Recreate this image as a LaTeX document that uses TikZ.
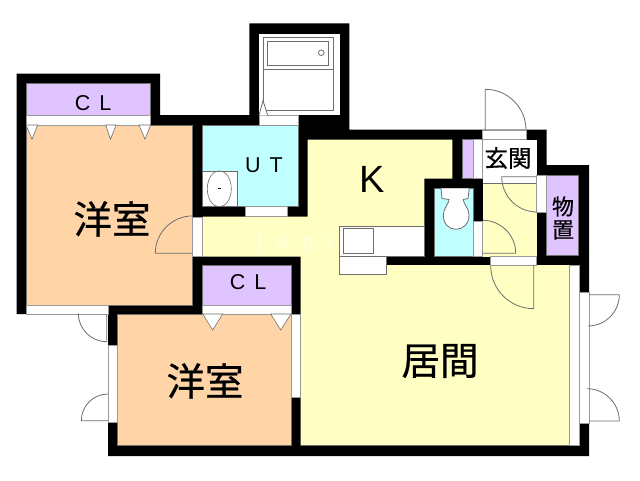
\documentclass[tikz,border=0pt]{standalone}
\usepackage{fontspec}
\setmainfont{Liberation Sans}
\newfontfamily\cjk[FakeBold=0.6]{Noto Sans CJK JP}
\definecolor{orangeroom}{HTML}{FFD5A8}
\definecolor{lilacroom}{HTML}{E0C4FF}
\definecolor{cyanroom}{HTML}{BFFFFF}
\definecolor{yellowroom}{HTML}{FFFFC4}
\definecolor{markfaint}{HTML}{FFFFE0}
\definecolor{edgegrey}{HTML}{6E6E6E}
\tikzset{
  wall/.style={fill=black,draw=none},
  room/.style={draw=edgegrey,line width=0.5pt},
  opening/.style={fill=white,draw=edgegrey!70,line width=0.6pt},
  fixture/.style={fill=white,draw=edgegrey,line width=0.8pt},
  doorline/.style={draw=edgegrey,line width=0.8pt},
  bigjp/.style={font=\cjk\fontsize{38.5}{38.5}\selectfont,inner sep=0pt},
  midjp/.style={font=\cjk\fontsize{23.5}{23.5}\selectfont,inner sep=0pt},
  label/.style={font=\fontsize{21.5}{21.5}\selectfont,inner sep=0pt}
}
\begin{document}
\begin{tikzpicture}[x=1pt,y=-1pt]
\useasboundingbox[fill=white] (0,0) rectangle (640,480);
% walls (outer silhouette)
\fill[wall] (16.5,73.5) -- (160,73.5) -- (160,115) -- (249.3,115) -- (249.3,23.3) -- (349.3,23.3) -- (349.3,129.5) -- (546.7,129.5) -- (546.7,165) -- (589,165) -- (589,456) -- (108,456) -- (108,314) -- (16.5,314) -- cycle;
% rooms
\fill[room,fill=orangeroom] (26,125) rectangle (192.7,305);
\fill[room,fill=orangeroom] (117.5,314) rectangle (291,445.7);
\fill[room,fill=cyanroom] (202.3,125.3) rectangle (298.3,206.7);
\fill[room,fill=cyanroom] (434,188.3) rectangle (473.3,256.7);
\fill[room,fill=lilacroom] (26,83) rectangle (150.7,115);
\fill[room,fill=lilacroom] (202.7,265.7) rectangle (291,305);
\fill[room,fill=lilacroom] (462.3,139.5) rectangle (473.3,178.3);
\fill[room,fill=lilacroom] (546.7,175) rectangle (578.5,255.3);
% yellow floor
\fill[fill=yellowroom] (307.7,139.5) -- (452.3,139.5) -- (452.3,178.7) -- (424.3,178.7) -- (424.3,256.5) -- (386.7,256.5) -- (386.7,265) -- (569.3,265) -- (569.3,445.7) -- (300.7,445.7) -- (300.7,256.5) -- (202.7,256.5) -- (202.7,216.7) -- (307.7,216.7) -- cycle;
\fill[fill=yellowroom] (482.7,183.3) rectangle (536.7,256.7);
\draw[doorline] (569.3,265) -- (569.3,445.7) -- (300.7,445.7);
% walls around the living room, drawn again over the floor
\fill[wall] (386.7,256.5) rectangle (578.5,265);
% genkan
\fill[white] (482.7,139.5) rectangle (536.7,183.3);
\draw[doorline] (482.7,183.3) -- (536.7,183.3);
% openings
\fill[opening] (26,115) rectangle (150.7,125);
\fill[opening] (26,305) rectangle (108,314);
\fill[opening] (192.7,217) rectangle (202.7,256);
\fill[opening] (202.7,305) rectangle (291,314);
\fill[opening] (291,314) rectangle (300.7,397);
\fill[opening] (108,345) rectangle (117.5,422.7);
\fill[opening] (259,115.3) rectangle (298.3,125.3);
\fill[opening] (245.3,206.7) rectangle (287.7,216.7);
\fill[opening] (473.3,139.5) rectangle (482.7,178.3);
\fill[opening] (482.7,130) rectangle (526,139.5);
\fill[opening] (536.7,175) rectangle (546.7,212);
\fill[opening] (473.3,221.7) rectangle (482.7,256.7);
\fill[opening] (490.7,256.5) rectangle (536.7,265);
\fill[opening] (569.3,265) rectangle (579,445.7);
\fill[opening] (579,292.7) rectangle (589,423.3);
% bath room
\fill[white] (259,34) rectangle (339.7,115.3);
\draw[fixture] (263,37.3) rectangle (333.7,110.7);
\draw[fixture] (263,69) -- (333.7,69);
\draw[fixture] (267.3,41.3) rectangle (328.3,65);
\draw[fixture] (321.3,52.7) circle (2.8);
\draw[fixture] (259,115.3) -- (263,100.7) -- (267.7,115.3);
% wash stand
\draw[fixture] (202.3,171.3) rectangle (237.3,206.7);
\draw[doorline,line width=0.6pt] (219.3,188.8) ellipse (12 and 18);
\fill[black] (217.7,187.8) rectangle (220.7,189.3);
% toilet
\draw[fixture,fill=white] (441,188.3) -- (442,198.5) -- (449,199.5) .. controls (449,204) and (443.3,208) .. (443.3,215) .. controls (443.3,224) and (449,229.3) .. (456,229.3) .. controls (463,229.3) and (469,224) .. (469,215) .. controls (469,208) and (463.3,204) .. (463.3,199.5) -- (468,198.5) -- (469.3,188.3);
% kitchen counter
\draw[fixture,fill=white] (339.3,226) rectangle (424.3,256);
\draw[fixture,fill=white] (339.3,256) rectangle (386.7,274.3);
\draw[fixture] (343.3,228.3) rectangle (373.3,253.3);
% closet triangles
\foreach \a/\b/\c in {26/32/37.7,105.7/110.5/116,139/145/150.7}
  \draw[fixture,line width=0.6pt] (\a,125) -- (\b,139.3) -- (\c,125) -- cycle;
\foreach \a/\b/\c in {202.7/212.7/222.7,270.7/280.7/291}
  \draw[fixture,line width=0.6pt] (\a,314) -- (\b,330) -- (\c,314) -- cycle;
% doors
\draw[doorline] (485.3,130) -- (485.3,89.3) arc[start angle=-90,end angle=0,radius=40.7];
\draw[doorline] (536.7,176.7) -- (501.7,176.7) arc[start angle=180,end angle=90,radius=35.3];
\draw[doorline] (482.7,253.3) -- (515.7,253.3) arc[start angle=0,end angle=-90,radius=33];
\draw[doorline] (533.7,265) -- (533.7,308.7) arc[start angle=90,end angle=180,radius=43];
\draw[doorline] (192.7,253.3) -- (155.3,253.3) arc[start angle=180,end angle=270,radius=37.4];
\draw[doorline] (106.7,314) -- (106.7,341.7) arc[start angle=90,end angle=180,radius=28.4];
\draw[doorline] (108,420.7) -- (81.3,420.7) arc[start angle=180,end angle=270,radius=26.7];
\draw[doorline] (589,294.7) -- (619.3,294.7) arc[start angle=0,end angle=90,radius=31.3];
\draw[doorline] (589,421) -- (619.3,421) arc[start angle=0,end angle=-90,radius=32.3];
% labels
\node[label] (cl1) at (93,103) {C\hspace{9pt}L};
\node[label] (cl2) at (248,282.5) {C\hspace{9pt}L};
\node[label] (ut) at (264,165) {U\hspace{9pt}T};
\node[font=\fontsize{38}{38}\selectfont,inner sep=0pt] (k) at (372,179) {K};
\node[bigjp] (yo1) at (112,219) {洋室};
\node[bigjp] (yo2) at (205,381) {洋室};
\node[bigjp] (kyo) at (440,361) {居間};
\node[midjp] (gen) at (508,158) {玄関};
\node[align=center,inner sep=0pt,font=\cjk\fontsize{22}{23}\selectfont] (mono) at (563,218) {物\\置};
\node[font=\fontsize{22}{22}\selectfont,text=markfaint,inner sep=0pt] (wm) at (295,243) {j\hspace{14pt}o\hspace{14pt}g\hspace{14pt}i};
\end{tikzpicture}
\end{document}
